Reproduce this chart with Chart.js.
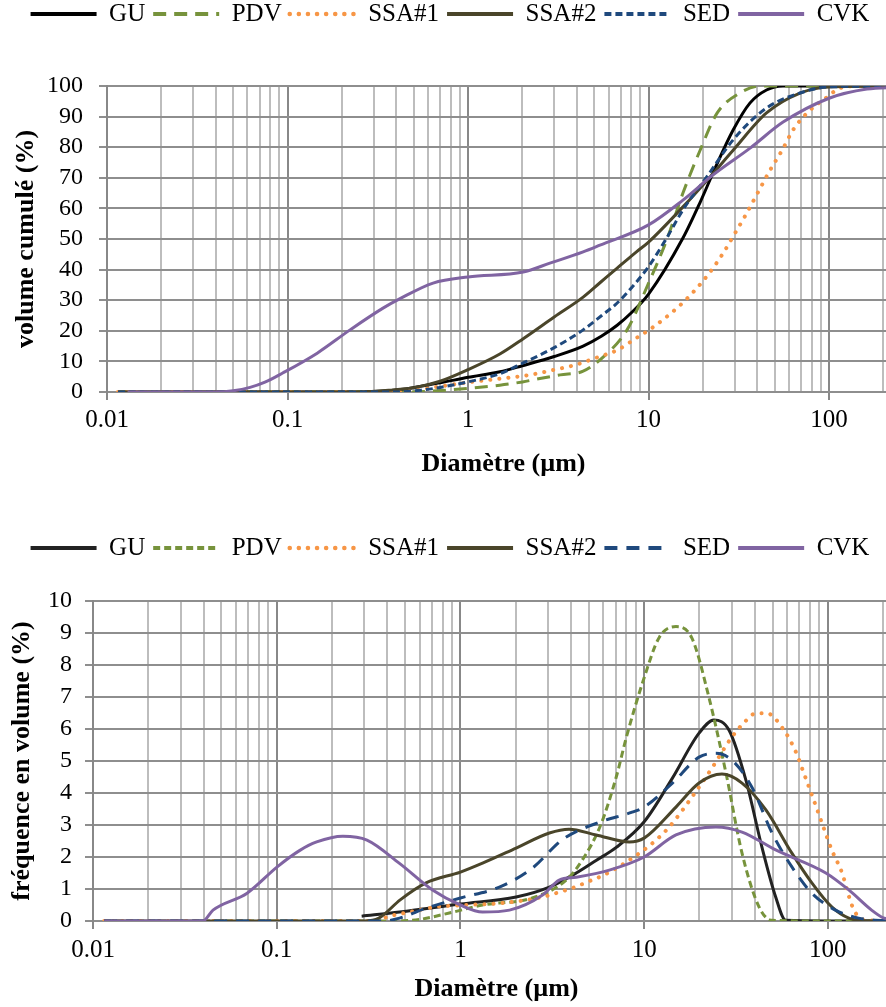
<!DOCTYPE html>
<html><head><meta charset="utf-8">
<script src="https://cdn.jsdelivr.net/npm/chart.js@4"></script>
<style>
html,body{margin:0;padding:0;background:#fff;overflow:hidden;}
#wrap{position:relative;width:886px;height:1007px;overflow:hidden;}
canvas{position:absolute;left:0;}
</style>
</head><body>
<div id="wrap">
<canvas id="c1" width="900" height="495" style="top:0px"></canvas>
<canvas id="c2" width="900" height="512" style="top:495px"></canvas>
</div>
<script>
const FONT = "'Liberation Serif', 'Times New Roman', serif";
const seriesNames = ['GU', 'PDV', 'SSA#1', 'SSA#2', 'SED', 'CVK'];
const seriesColorsTop = ['#000000', '#77933C', '#F79646', '#4A452A', '#1F497D', '#8064A2'];
const seriesColorsBottom = ['#222222', '#77933C', '#F79646', '#4A452A', '#1F497D', '#8064A2'];
const xTickLabels = ['0.01', '0.1', '1', '10', '100'];
const xGridValues = [0.01,0.02,0.03,0.04,0.05,0.06,0.07,0.08,0.09,
  0.1,0.2,0.3,0.4,0.5,0.6,0.7,0.8,0.9,
  1,2,3,4,5,6,7,8,9,
  10,20,30,40,50,60,70,80,90,
  100,200];
const xMin = 0.01, xMax = 247;

// ---- Cumulative volume (%) ----
const guCumD   = [0.0115, 0.1, 0.3, 0.45, 0.56, 0.7, 1, 1.5, 2, 3, 4.34, 5.5, 6.7, 8, 10, 15.5, 19.3, 23.3, 29.4, 36.4, 45, 55.6, 100, 240];
const guCumV   = [0, 0, 0.2, 1.0, 2.0, 3.0, 4.8, 6.6, 8.6, 11.6, 15, 18.3, 21.8, 25.8, 32, 50.3, 62, 73, 85.6, 94.4, 98.7, 100, 100, 100];
const pdvCumD  = [0.0115, 0.5, 0.67, 1, 1.5, 2, 2.5, 3.24, 4.34, 5.6, 7.6, 10, 12.6, 15.5, 19.3, 24, 32, 41.5, 100, 240];
const pdvCumV  = [0, 0, 0.4, 1.2, 2.2, 3.3, 4.4, 5.6, 6.8, 11.4, 20.3, 35.6, 49.7, 65, 79, 91.2, 97.7, 100, 100, 100];
const ssa1CumD = [0.0115, 0.4, 0.5, 0.66, 1.05, 1.64, 2.2, 2.96, 3.9, 5.25, 6.7, 8.75, 10.2, 14.6, 18.1, 21.9, 25.9, 30.2, 35, 40.5, 47.1, 54.9, 63.1, 76.5, 97.5, 115, 150, 240];
const ssa1CumV = [0, 0, 0.5, 1.6, 3.3, 4.6, 5.6, 7.2, 8.8, 11.4, 13.7, 18, 20.5, 27.8, 33.3, 39.2, 45.4, 52, 58.5, 65.4, 72.5, 79, 85.6, 91.5, 96.4, 99.3, 100, 100];
const ssa2CumD = [0.0115, 0.25, 0.37, 0.52, 0.7, 1, 1.5, 2.02, 3, 4.34, 5.38, 6.7, 8.6, 10, 15.5, 21.9, 29.4, 45, 69, 100, 240];
const ssa2CumV = [0, 0, 0.6, 1.6, 3.5, 7.3, 12.4, 17.4, 24.5, 31, 35.7, 40.5, 45.9, 49, 60.5, 70.3, 79, 91.2, 97.7, 99.7, 100];
const sedCumD  = [0.0115, 0.4, 0.55, 0.7, 1, 1.5, 2.02, 3, 4.34, 5.5, 6.68, 8.3, 10, 12.5, 15.5, 21, 29.4, 45, 69, 100, 240];
const sedCumV  = [0, 0, 0.6, 1.5, 3.3, 6, 9.5, 14.5, 20.3, 25, 29, 35, 41, 50, 59.5, 70.3, 82.4, 92.8, 97.7, 99.7, 100];
const cvkCumD  = [0.013, 0.04, 0.05, 0.062, 0.075, 0.094, 0.146, 0.222, 0.338, 0.42, 0.64, 1, 2.02, 2.84, 4.34, 5.38, 10, 15.5, 22.7, 36.5, 55.6, 100, 162, 240];
const cvkCumV  = [0, 0, 0.4, 1.5, 3.2, 6.2, 12.7, 20.3, 27.4, 30.5, 35.6, 37.6, 39.2, 42.1, 45.8, 48, 54.6, 62.7, 70.9, 79.7, 88.2, 96, 99, 99.6];

// ---- Volume frequency (%) ----
const guFreqD   = [0.29, 0.466, 1, 2.01, 3.05, 4.27, 5.5, 7.05, 10, 14.2, 19.9, 24, 29, 35.8, 43.8, 52, 59, 100, 240];
const guFreqV   = [0.15, 0.28, 0.53, 0.75, 1.06, 1.5, 1.9, 2.3, 3.1, 4.45, 5.87, 6.28, 5.96, 4.4, 2.3, 0.75, 0.02, 0, 0];
const pdvFreqD  = [0.0115, 0.41, 0.6, 0.87, 1.32, 2.46, 3.77, 4.6, 5.8, 7.05, 8, 10, 12.1, 14.9, 18.2, 22.5, 27.9, 34.1, 42.2, 49.7, 100, 240];
const pdvFreqV  = [0, 0, 0.05, 0.25, 0.5, 0.72, 1.28, 1.9, 3.0, 4.5, 5.74, 7.6, 8.87, 9.2, 8.84, 7.0, 4.62, 2.12, 0.44, 0.02, 0, 0];
const ssa1FreqD = [0.0115, 0.35, 0.4, 0.53, 0.74, 1.08, 1.69, 2.8, 3.45, 4.07, 5.2, 6.06, 8.8, 11.3, 13.7, 18.2, 23.4, 29.7, 35, 40.6, 46.6, 57.7, 67, 74, 86, 95, 105, 119, 135, 144, 160, 240];
const ssa1FreqV = [0, 0, 0.13, 0.28, 0.44, 0.5, 0.56, 0.75, 0.9, 1.03, 1.28, 1.44, 2.0, 2.47, 2.94, 3.87, 4.78, 5.71, 6.2, 6.49, 6.49, 5.96, 5.28, 4.62, 3.6, 2.9, 2.22, 1.53, 0.5, 0.19, 0.03, 0];
const ssa2FreqD = [0.0115, 0.3, 0.36, 0.47, 0.65, 1, 1.32, 2.01, 3.05, 3.9, 5.48, 8.3, 10, 14.9, 19.9, 26.5, 34.1, 46, 63.7, 81.8, 105, 130, 160, 240];
const ssa2FreqV = [0, 0, 0.09, 0.66, 1.19, 1.53, 1.81, 2.28, 2.75, 2.87, 2.69, 2.47, 2.59, 3.56, 4.31, 4.59, 4.31, 3.47, 2.12, 1.19, 0.44, 0.09, 0.01, 0];
const sedFreqD  = [0.0115, 0.38, 0.466, 0.65, 1, 1.63, 2.46, 3.6, 5.8, 8.6, 10, 14.2, 19.9, 24.6, 30, 38.6, 49.7, 63.7, 81.8, 110, 147, 240];
const sedFreqV  = [0, 0, 0.09, 0.4, 0.72, 1.06, 1.65, 2.55, 3.1, 3.4, 3.56, 4.3, 5.12, 5.24, 5.03, 4.18, 2.75, 1.69, 0.87, 0.34, 0.09, 0];
const cvkFreqD  = [0.0115, 0.0396, 0.045, 0.069, 0.101, 0.133, 0.165, 0.229, 0.31, 0.466, 0.705, 1, 1.32, 1.85, 2.8, 3.45, 4.27, 6.46, 10, 14.9, 24.6, 34.1, 52, 97.5, 130, 173, 200, 240];
const cvkFreqV  = [0, 0, 0.34, 0.87, 1.7, 2.2, 2.47, 2.65, 2.53, 1.8, 0.97, 0.5, 0.28, 0.34, 0.81, 1.28, 1.37, 1.59, 2.0, 2.69, 2.94, 2.78, 2.22, 1.5, 0.97, 0.34, 0.1, 0.02];

const isDecade = v => Math.abs(Math.log10(v) - Math.round(Math.log10(v))) < 1e-6;
const MAJOR = '#888888', MINOR = '#bdbdbd', HGRID = '#8e8e8e';

function makeChart(id, o) {
  const datasets = o.series.map((s, i) => ({
    label: seriesNames[i],
    data: s.d.map((x, k) => ({x: x, y: s.v[k]})),
    borderColor: o.colors[i],
    borderWidth: s.dot ? 4 : 3,
    borderDash: s.dash || [],
    borderCapStyle: s.dot ? 'round' : 'butt',
    pointRadius: 0, pointHoverRadius: 0,
    fill: false,
    cubicInterpolationMode: 'monotone',
    order: o.series.length - i
  }));
  return new Chart(document.getElementById(id), {
    type: 'line',
    data: {datasets: datasets},
    options: {
      responsive: false, animation: false, events: [],
      layout: {padding: {top: o.padTop, left: 0, right: 0, bottom: 0}},
      plugins: {
        tooltip: {enabled: false},
        legend: {
          position: 'top', align: 'center',
          labels: {
            font: {size: 25, family: FONT}, color: '#000', padding: 8,
            usePointStyle: true, pointStyleWidth: 66,
            generateLabels: chart => chart.data.datasets.map((ds, i) => ({
              text: ds.label, fillStyle: ds.borderColor, strokeStyle: ds.borderColor,
              lineWidth: ds.borderCapStyle === 'round' ? 4.5 : 4, lineDash: ds.borderDash, lineCap: ds.borderCapStyle,
              pointStyle: 'line', hidden: false, datasetIndex: i, fontColor: '#000'
            }))
          }
        },
        title: {display: true, text: ' ', weight: 0, position: 'top', font: {size: 10}, padding: {top: o.spacer, bottom: 0}}
      },
      scales: {
        x: {
          type: 'logarithmic', min: xMin, max: xMax,
          afterBuildTicks: sc => { sc.ticks = xGridValues.map(v => ({value: v, major: false})); },
          afterFit: sc => { sc.height = o.xAxisH; },
          ticks: {autoSkip: false, maxRotation: 0, minRotation: 0, padding: o.xTickPad,
            font: {size: 25, family: FONT}, color: '#000',
            callback: v => isDecade(v) ? xTickLabels[Math.round(Math.log10(v)) + 2] : ''},
          grid: {lineWidth: 2, tickLength: 8,
            color: c => (c.tick && isDecade(c.tick.value)) ? MAJOR : MINOR,
            tickColor: c => (c.tick && isDecade(c.tick.value)) ? MAJOR : 'rgba(0,0,0,0)'},
          border: {color: HGRID, width: 2},
          title: {display: true, text: 'Diamètre (µm)', color: '#000',
            font: {size: 26, weight: 'bold', family: FONT}, padding: {top: 0, bottom: o.xTitlePad}}
        },
        y: {
          min: 0, max: o.yMax,
          afterFit: sc => { sc.width = o.yAxisW; },
          ticks: {stepSize: o.yStep, autoSkip: false, padding: o.yTickPad, font: {size: 24, family: FONT}, color: '#000'},
          grid: {color: HGRID, lineWidth: 2, tickLength: 8, tickColor: HGRID},
          border: {color: MAJOR, width: 2},
          title: {display: true, text: o.yTitle, color: '#000',
            font: {size: 26, weight: 'bold', family: FONT}, padding: {top: o.yTitlePad, bottom: 0}}
        }
      }
    }
  });
}

makeChart('c1', {
  colors: seriesColorsTop,
  series: [
    {d: guCumD, v: guCumV},
    {d: pdvCumD, v: pdvCumV, dash: [13, 8]},
    {d: ssa1CumD, v: ssa1CumV, dash: [0.1, 9], dot: true},
    {d: ssa2CumD, v: ssa2CumV},
    {d: sedCumD, v: sedCumV, dash: [7, 4]},
    {d: cvkCumD, v: cvkCumV}
  ],
  padTop: -6.5, spacer: 37.5,
  yMax: 100, yStep: 10, yTitle: 'volume cumulé (%)',
  yAxisW: 107, yTitlePad: 11, yTickPad: 16,
  xAxisH: 103, xTickPad: 5, xTitlePad: 15
});

makeChart('c2', {
  colors: seriesColorsBottom,
  series: [
    {d: guFreqD, v: guFreqV},
    {d: pdvFreqD, v: pdvFreqV, dash: [7, 4]},
    {d: ssa1FreqD, v: ssa1FreqV, dash: [0.1, 9], dot: true},
    {d: ssa2FreqD, v: ssa2FreqV},
    {d: sedFreqD, v: sedFreqV, dash: [13, 9]},
    {d: cvkFreqD, v: cvkFreqV}
  ],
  padTop: 32.5, spacer: 18.5,
  yMax: 10, yStep: 1, yTitle: 'fréquence en volume (%)',
  yAxisW: 93, yTitlePad: 7, yTickPad: 13,
  xAxisH: 86, xTickPad: 6, xTitlePad: 2
});
</script>
</body></html>
